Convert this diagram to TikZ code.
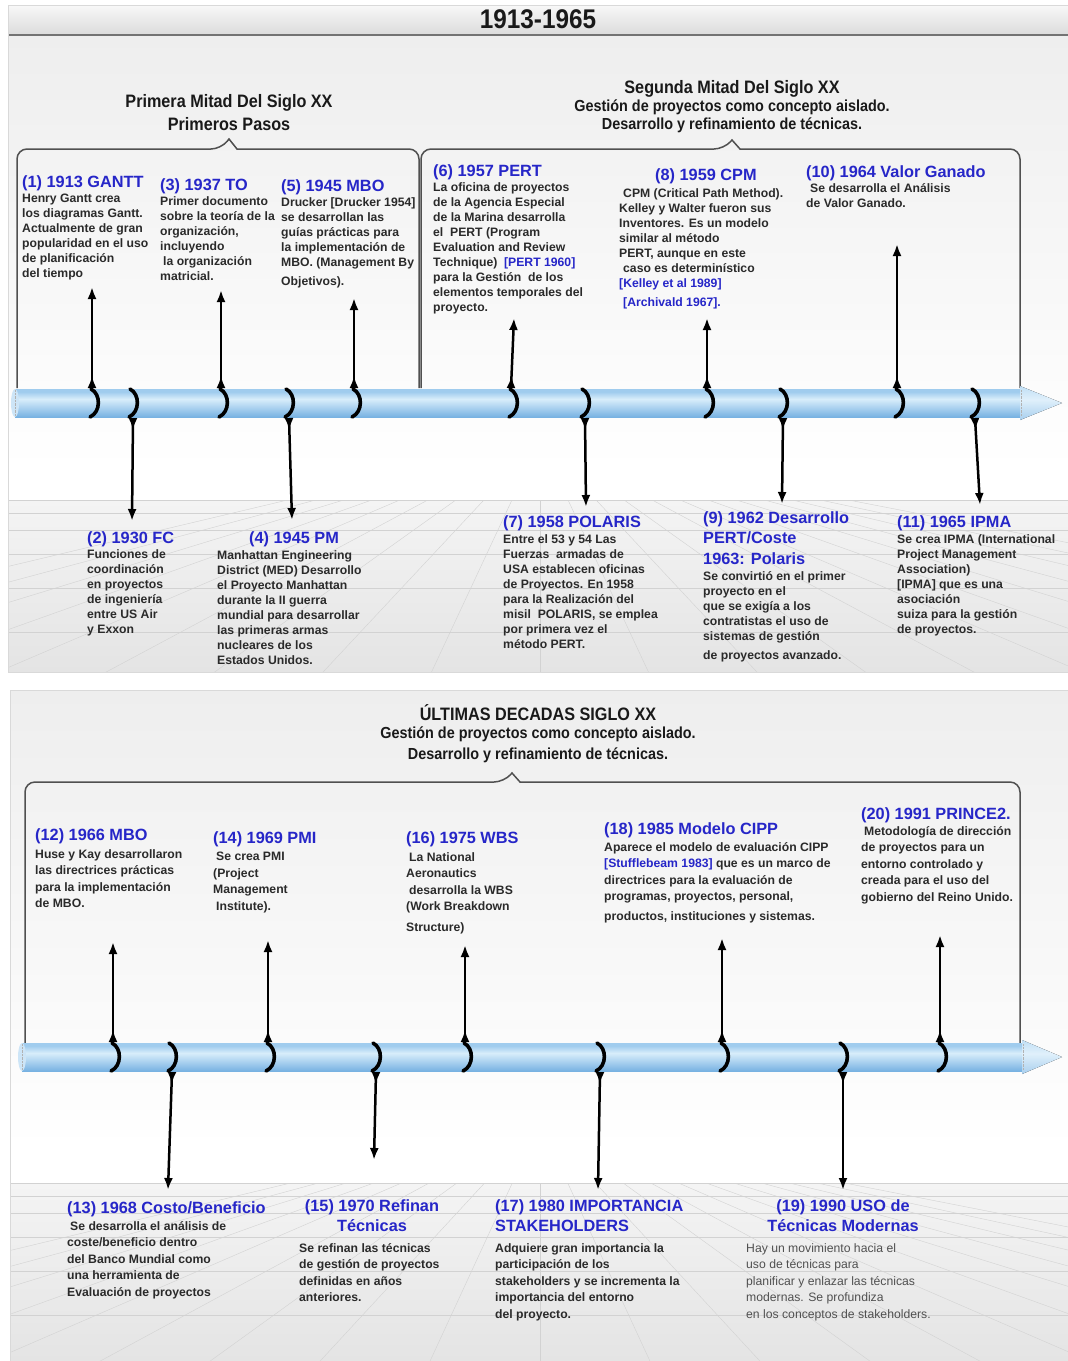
\documentclass[tikz,border=0pt]{standalone}
\usepackage{fontspec}
\setmainfont{Liberation Sans}
\newfontfamily\hdrfont[FakeStretch=0.9]{Liberation Sans}
\usetikzlibrary{arrows.meta}

\definecolor{ttlblue}{RGB}{38,38,200}
\definecolor{txtdark}{RGB}{42,42,42}
\definecolor{txtgray}{RGB}{80,80,80}
\definecolor{hdrtxt}{RGB}{25,25,25}
\definecolor{bracegray}{RGB}{80,80,80}
\definecolor{bgA}{RGB}{238,238,238}
\definecolor{floorTop}{RGB}{244,244,244}
\definecolor{floorBot}{RGB}{228,228,228}
\definecolor{floorline}{RGB}{210,210,210}
\definecolor{barTop}{RGB}{248,248,248}
\definecolor{barBot}{RGB}{220,220,220}
\definecolor{tubeB}{RGB}{120,178,226}
\definecolor{tubeM}{RGB}{165,206,238}
\definecolor{tubeL}{RGB}{216,237,250}
\definecolor{tubeT}{RGB}{160,204,238}
\definecolor{coneB}{RGB}{168,207,238}
\definecolor{coneL}{RGB}{224,240,251}
\definecolor{coneT}{RGB}{192,223,245}
\definecolor{capfill}{RGB}{205,229,247}

\pgfdeclareverticalshading{tubeshade}{100bp}{color(0bp)=(tubeB); color(25bp)=(tubeB); color(40bp)=(tubeM); color(57bp)=(tubeL); color(70bp)=(tubeT); color(75bp)=(tubeT); color(100bp)=(tubeT)}
\pgfdeclareverticalshading{coneshade}{100bp}{color(0bp)=(coneB); color(25bp)=(coneB); color(55bp)=(coneL); color(75bp)=(coneT); color(100bp)=(coneT)}

% floor with a perspective grid: #1 top, #2 bottom, #3 left edge
\newcommand\floorgrid[3]{%
  \begin{scope}
    \clip (#3,#1) rectangle (1068,#2);
    \fill[top color=floorTop, bottom color=floorBot] (#3,#1) rectangle (1068,#2);
    \foreach \k in {-9,...,11}
      \draw[floorline] (540,#1-60) -- ({540+\k*230},#2+260);
    \foreach \d in {0,13,30,54,88,132}
      \draw[floorline] (#3,#1+\d) -- (1068,#1+\d);
  \end{scope}}

\begin{document}
\begin{tikzpicture}[x=1pt,y=-1pt,
  ttl/.style={font=\fontsize{16.3}{20.5}\selectfont\bfseries, text=ttlblue, inner sep=0, anchor=base west},
  ttlm/.style={ttl, anchor=north west, align=left, execute at begin node={\rule{0pt}{14pt}}},
  ttlc/.style={ttl, anchor=north, align=center, execute at begin node={\rule{0pt}{14pt}}},
  dsc/.style={font=\fontsize{12.2}{15}\selectfont\bfseries, text=txtdark, inner sep=0,
    anchor=north west, align=left, execute at begin node={\rule{0pt}{10.5pt}}},
  dsc2/.style={dsc, font=\fontsize{12.2}{16.5}\selectfont\bfseries},
  dscr/.style={dsc, font=\fontsize{12.2}{16.5}\selectfont, text=txtgray},
  hdrL/.style={font=\hdrfont\bfseries\fontsize{18}{20}\selectfont, text=hdrtxt, inner sep=0},
  hdrS/.style={font=\hdrfont\bfseries\fontsize{16}{18}\selectfont, text=hdrtxt, inner sep=0},
  brc/.style={draw=bracegray, line width=1.5pt},
  evt/.style={line width=2.5pt, {Latex[reversed,length=12pt,width=9pt]}-{Latex[length=12pt,width=9pt]}},
  hk/.pic={\draw[line width=3.6pt, line cap=round] (-3,-14) .. controls (7,-9) and (7,9) .. (-4,14);},
  panel/.style={draw=black!15, line width=0.6pt}
]
\useasboundingbox (0,0) rectangle (1068,1361);
\fill[white] (0,0) rectangle (1068,1361);

%% ---------------- first panel: 1913-1965 ----------------
\fill[top color=bgA, bottom color=white] (8,35) rectangle (1068,470);
\floorgrid{500}{672}{8}
\fill[top color=barTop, bottom color=barBot] (8,5) rectangle (1068,34);
\draw[line width=2pt, black!55] (8,35) -- (1068,35);
\draw[panel] (8,5) rectangle (1068,672);
\node[font=\hdrfont\bfseries\fontsize{27}{29}\selectfont, text=hdrtxt, inner sep=0] (title1) at (538,19) {1913-1965};

\node[hdrL] (h1a) at (229,103) {Primera Mitad Del Siglo XX};
\node[hdrL] (h1b) at (229,124) {Primeros Pasos};
\node[hdrL] (h2a) at (732,89) {Segunda Mitad Del Siglo XX};
\node[hdrS] (h2b) at (732,107) {Gestión de proyectos como concepto aislado.};
\node[hdrS] (h2c) at (732,125) {Desarrollo y refinamiento de técnicas.};

% braces
\draw[brc, rounded corners=10pt] (17,388) -- (17,149) -- (221,149) [sharp corners] -- (229,139) -- (237,149) [rounded corners=10pt] -- (419,149) -- (419,388);
\draw[brc, rounded corners=10pt] (421,388) -- (421,149) -- (724,149) [sharp corners] -- (732,140) -- (740,149) [rounded corners=10pt] -- (1020,149) -- (1020,388);

% axis
\fill[shading=tubeshade] (15,389) rectangle (1022,417);
\fill[capfill] (15,403) ellipse (4 and 14);
\draw[densely dotted, black!30] (15,390) -- (15,416);
\fill[shading=coneshade] (1020,386) -- (1062,403) -- (1020,420) -- cycle;
\draw[densely dotted, black!30] (1021,390) -- (1021,416);

% events above the axis
\foreach \n/\xa/\xb/\ye in {1/92/92/287, 3/221/221/290, 5/354/354/298, 6/511/514/318, 8/707/707/318, 10/897/897/244}{
  \coordinate (a\n) at (\xa,388);
  \coordinate (e\n) at (\xb,\ye);
  \draw[evt] (a\n) -- (e\n);
  \pic at (\xa+2,403) {hk};
}
% events below the axis
\foreach \n/\xa/\xb/\ye in {2/133/132/521, 4/289/292/520, 7/585/586/507, 9/783/782/504, 11/975/980/505}{
  \coordinate (a\n) at (\xa,418);
  \coordinate (e\n) at (\xb,\ye);
  \draw[evt] (a\n) -- (e\n);
  \pic at (\xa,403) {hk};
}

% texts above
\node[ttl] (t1) at (22,187) {(1) 1913 GANTT};
\node[dsc] (d1) at (22,193.5) {Henry Gantt crea\\los diagramas Gantt.\\Actualmente de gran\\popularidad en el uso\\de planificación\\del tiempo};
\node[ttl] (t3) at (160,190) {(3) 1937 TO};
\node[dsc] (d3) at (160,196.5) {Primer documento\\sobre la teoría de la\\organización,\\incluyendo\\\hspace*{3pt}la organización\\matricial.};
\node[ttl] (t5) at (281,191) {(5) 1945 MBO};
\node[dsc] (d5) at (281,197.5) {Drucker [Drucker 1954]\\se desarrollan las\\guías prácticas para\\la implementación de\\MBO. (Management By\\[4pt]Objetivos).};
\node[ttl] (t6) at (433,176) {(6) 1957 PERT};
\node[dsc] (d6) at (433,182.5) {La oficina de proyectos\\de la Agencia Especial\\de la Marina desarrolla\\el\ \ PERT (Program\\Evaluation and Review\\Technique)\ \ \textcolor{ttlblue}{[PERT 1960]}\\para la Gestión\ \ de los\\elementos temporales del\\proyecto.};
\node[ttl] (t8) at (655,180) {(8) 1959 CPM};
\node[dsc] (d8) at (619,188.5) {\hspace*{4pt}CPM (Critical Path Method).\\Kelley y Walter fueron sus\\Inventores. Es un modelo\\similar al método\\PERT, aunque en este\\\hspace*{4pt}caso es determinístico\\\textcolor{ttlblue}{[Kelley et al 1989]}\\[4pt]\hspace*{4pt}\textcolor{ttlblue}{[Archivald 1967].}};
\node[ttl] (t10) at (806,177) {(10) 1964 Valor Ganado};
\node[dsc] (d10) at (806,183.5) {\hspace*{4pt}Se desarrolla el Análisis\\de Valor Ganado.};

% texts below
\node[ttl] (t2) at (87,543) {(2) 1930 FC};
\node[dsc] (d2) at (87,549.5) {Funciones de\\coordinación\\en proyectos\\de ingeniería\\entre US Air\\y Exxon};
\node[ttl] (t4) at (249,543) {(4) 1945 PM};
\node[dsc] (d4) at (217,550) {Manhattan Engineering\\District (MED) Desarrollo\\el Proyecto Manhattan\\durante la II guerra\\mundial para desarrollar\\las primeras armas\\nucleares de los\\Estados Unidos.};
\node[ttl] (t7) at (503,527) {(7) 1958 POLARIS};
\node[dsc] (d7) at (503,534) {Entre el 53 y 54 Las\\Fuerzas\ \ armadas de\\USA establecen oficinas\\de Proyectos. En 1958\\para la Realización del\\misil\ \ POLARIS, se emplea\\por primera vez el\\método PERT.};
\node[ttlm] (t9) at (703,511) {(9) 1962 Desarrollo\\PERT/Coste\\1963: Polaris};
\node[dsc] (d9) at (703,571) {Se convirtió en el primer\\proyecto en el\\que se exigía a los\\contratistas el uso de\\sistemas de gestión\\[4pt]de proyectos avanzado.};
\node[ttl] (t11) at (897,527) {(11) 1965 IPMA};
\node[dsc] (d11) at (897,534) {Se crea IPMA (International\\Project Management\\Association)\\{[IPMA]} que es una\\asociación\\suiza para la gestión\\de proyectos.};

%% ---------------- second panel: last decades ----------------
\fill[top color=bgA, bottom color=white] (10,690) rectangle (1068,1150);
\floorgrid{1183}{1361}{10}
\draw[panel] (10,690) rectangle (1068,1361);

\node[hdrL] (h3a) at (538,713) {ÚLTIMAS DECADAS SIGLO XX};
\node[hdrS] (h3b) at (538,734) {Gestión de proyectos como concepto aislado.};
\node[hdrS] (h3c) at (538,755) {Desarrollo y refinamiento de técnicas.};

\draw[brc, rounded corners=10pt] (25,1043) -- (25,782) -- (504,782) [sharp corners] -- (512,773) -- (520,782) [rounded corners=10pt] -- (1020,782) -- (1020,1043);

\fill[shading=tubeshade] (22,1043) rectangle (1024,1071);
\fill[capfill] (22,1057) ellipse (4 and 14);
\draw[densely dotted, black!30] (22,1044) -- (22,1070);
\fill[shading=coneshade] (1022,1040) -- (1062,1057) -- (1022,1074) -- cycle;
\draw[densely dotted, black!30] (1023,1044) -- (1023,1070);

\foreach \n/\xa/\xb/\ye in {12/113/113/942, 14/268/268/940, 16/465/465/945, 18/722/722/938, 20/940/940/935}{
  \coordinate (a\n) at (\xa,1042);
  \coordinate (e\n) at (\xb,\ye);
  \draw[evt] (a\n) -- (e\n);
  \pic at (\xa+2,1057) {hk};
}
\foreach \n/\xa/\xb/\ye in {13/172/168/1190, 15/376/374/1160, 17/600/598/1190, 19/843/843/1190}{
  \coordinate (a\n) at (\xa,1072);
  \coordinate (e\n) at (\xb,\ye);
  \draw[evt] (a\n) -- (e\n);
  \pic at (\xa,1057) {hk};
}

\node[ttl] (t12) at (35,840) {(12) 1966 MBO};
\node[dsc2] (d12) at (35,849) {Huse y Kay desarrollaron\\las directrices prácticas\\para la implementación\\de MBO.};
\node[ttl] (t14) at (213,843) {(14) 1969 PMI};
\node[dsc2] (d14) at (213,852) {\hspace*{3pt}Se crea PMI\\(Project\\Management\\\hspace*{3pt}Institute).};
\node[ttl] (t16) at (406,843) {(16) 1975 WBS};
\node[dsc2] (d16) at (406,852) {\hspace*{3pt}La National\\Aeronautics\\\hspace*{3pt}desarrolla la WBS\\(Work Breakdown\\[4pt]Structure)};
\node[ttl] (t18) at (604,834) {(18) 1985 Modelo CIPP};
\node[dsc2] (d18) at (604,842) {Aparece el modelo de evaluación CIPP\\\textcolor{ttlblue}{[Stufflebeam 1983]} que es un marco de\\directrices para la evaluación de\\programas, proyectos, personal,\\[3pt]productos, instituciones y sistemas.};
\node[ttl] (t20) at (861,819) {(20) 1991 PRINCE2.};
\node[dsc2] (d20) at (861,826) {\hspace*{3pt}Metodología de dirección\\de proyectos para un\\entorno controlado y\\creada para el uso del\\gobierno del Reino Unido.};

\node[ttl] (t13) at (67,1213) {(13) 1968 Costo/Beneficio};
\node[dsc2] (d13) at (67,1221) {\hspace*{3pt}Se desarrolla el análisis de\\coste/beneficio dentro\\del Banco Mundial como\\una herramienta de\\Evaluación de proyectos};
\node[ttlc] (t15) at (372,1199) {(15) 1970 Refinan\\Técnicas};
\node[dsc2] (d15) at (299,1243) {Se refinan las técnicas\\de gestión de proyectos\\definidas en años\\anteriores.};
\node[ttlm] (t17) at (495,1199) {(17) 1980 IMPORTANCIA\\STAKEHOLDERS};
\node[dsc2] (d17) at (495,1243) {Adquiere gran importancia la\\participación de los\\stakeholders y se incrementa la\\importancia del entorno\\del proyecto.};
\node[ttlc] (t19) at (843,1199) {(19) 1990 USO de\\Técnicas Modernas};
\node[dscr] (d19) at (746,1243) {Hay un movimiento hacia el\\uso de técnicas para\\planificar y enlazar las técnicas\\modernas. Se profundiza\\en los conceptos de stakeholders.};
\end{tikzpicture}
\end{document}
